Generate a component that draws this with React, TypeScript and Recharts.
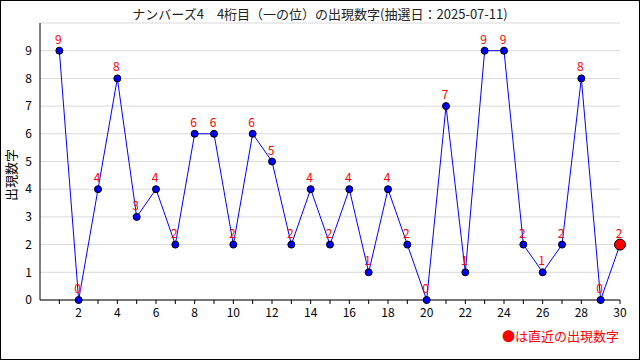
import React from 'react';
import { LineChart, Line, XAxis, YAxis, CartesianGrid, LabelList } from 'recharts';

const draws = [1, 2, 3, 4, 5, 6, 7, 8, 9, 10, 11, 12, 13, 14, 15, 16, 17, 18, 19, 20, 21, 22, 23, 24, 25, 26, 27, 28, 29, 30];
const digits = [9, 0, 4, 8, 3, 4, 2, 6, 6, 2, 6, 5, 2, 4, 2, 4, 1, 4, 2, 0, 7, 1, 9, 9, 2, 1, 2, 8, 0, 2];
const yTicks = [0, 1, 2, 3, 4, 5, 6, 7, 8, 9];

const data = draws.map((n, i) => ({ n, d: digits[i] }));
const FONT = '"Noto Sans CJK JP", "DejaVu Sans", sans-serif';

const Dot = (props: any) => {
  const { cx, cy, index } = props;
  const last = index === data.length - 1;
  return (
    <circle
      key={`dot-${index}`}
      cx={cx}
      cy={cy}
      r={last ? 5.5 : 3.5}
      fill={last ? '#ff0000' : '#0000ff'}
      stroke="#000"
      strokeWidth={1}
    />
  );
};

const XTick = (props: any) => {
  const { x, y, payload } = props;
  if (payload.value % 2 !== 0) return <g />;
  return (
    <text x={x} y={y} dy="0.71em" textAnchor="middle" fontSize={12} fill="#000" fontFamily={FONT}>
      {payload.value}
    </text>
  );
};

const ValueLabel = (props: any) => {
  const { x, y, value } = props;
  return (
    <text x={x - 1} y={y - 7} textAnchor="middle" fontSize={12} fill="#ff0000" fontFamily={FONT}>
      {value}
    </text>
  );
};

export default function App() {
  return (
    <div style={{ position: 'absolute', left: 0, top: 0, width: 640, height: 360, background: '#fff', fontFamily: FONT }}>
      <div style={{ position: 'absolute', left: 0, top: 0, width: 640, height: 360, boxSizing: 'border-box', border: '1px solid #000' }} />
      <div style={{ position: 'absolute', left: 0, top: 4, width: 640, textAlign: 'center', fontSize: 13, color: '#222' }}>
        ナンバーズ4　4桁目（一の位）の出現数字(抽選日：2025-07-11)
      </div>
      <div
        style={{
          position: 'absolute',
          left: 10,
          top: 175,
          transform: 'translate(-50%, -50%) rotate(-90deg)',
          fontSize: 13,
          color: '#000',
          whiteSpace: 'nowrap',
        }}
      >
        出現数字
      </div>
      <div style={{ position: 'absolute', right: 21, top: 326, fontSize: 13, color: '#ff0000' }}>●は直近の出現数字</div>
      <div style={{ position: 'absolute', left: 0, top: 0 }}>
        <LineChart width={640} height={360} data={data} margin={{ top: 23, right: 20, bottom: 40, left: 0 }}>
          <CartesianGrid vertical={false} stroke="#d9d9d9" />
          <XAxis
            dataKey="n"
            type="number"
            domain={[0, 30]}
            ticks={draws}
            interval={0}
            tick={<XTick />}
            tickSize={4}
            tickMargin={4}
            height={20}
            stroke="#000"
            tickLine={{ stroke: '#000' }}
          />
          <YAxis
            type="number"
            domain={[0, 10]}
            ticks={yTicks}
            interval={0}
            width={40}
            tickLine={false}
            stroke="#000"
            tick={{ fill: '#000', fontSize: 12, fontFamily: FONT }}
          />
          <Line
            type="linear"
            dataKey="d"
            stroke="#0000ff"
            strokeWidth={1}
            dot={<Dot />}
            activeDot={false}
            isAnimationActive={false}
          >
            <LabelList dataKey="d" content={<ValueLabel />} />
          </Line>
        </LineChart>
      </div>
    </div>
  );
}
